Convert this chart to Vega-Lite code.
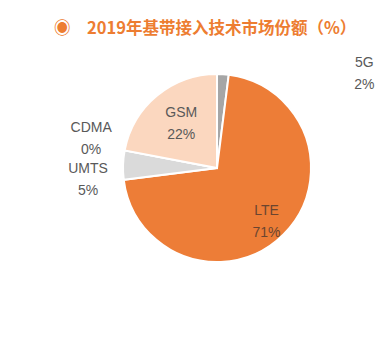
{
  "$schema": "https://vega.github.io/schema/vega-lite/v6.json",
  "width": 336,
  "height": 252,
  "autosize": {"type": "none"},
  "padding": {"left": 49, "top": 42, "right": 0, "bottom": 45},
  "background": "white",
  "view": {"stroke": null},
  "title": {
    "text": "◉　2019年基带接入技术市场份额（%）",
    "anchor": "start",
    "frame": "group",
    "dx": 5,
    "offset": -17,
    "font": "Noto Sans CJK SC",
    "fontSize": 16.5,
    "fontWeight": "bold",
    "color": "#ED7D31"
  },
  "data": {
    "values": [
      {"idx": 1, "tech": "5G", "share": 2, "label": "5G\n2%"},
      {"idx": 2, "tech": "LTE", "share": 71, "label": "LTE\n71%"},
      {"idx": 3, "tech": "UMTS", "share": 5, "label": "UMTS\n5%"},
      {"idx": 4, "tech": "CDMA", "share": 0, "label": "CDMA\n0%"},
      {"idx": 5, "tech": "GSM", "share": 22, "label": "GSM\n22%"}
    ]
  },
  "encoding": {
    "theta": {"field": "share", "type": "quantitative", "stack": true},
    "order": {"field": "idx", "type": "quantitative"}
  },
  "layer": [
    {
      "mark": {"type": "arc", "outerRadius": 94, "stroke": "white", "strokeWidth": 2},
      "encoding": {
        "color": {
          "field": "tech",
          "type": "nominal",
          "scale": {"domain": ["5G", "LTE", "UMTS", "CDMA", "GSM"], "range": ["#A6A6A6", "#ED7D37", "#DADADA", "#BFBFBF", "#FBD7BF"]},
          "legend": null
        }
      }
    },
    {
      "mark": {"type": "text", "radius": 56, "dy": -12, "font": "Liberation Sans", "fontSize": 14, "lineBreak": "\n", "lineHeight": 22, "baseline": "middle", "color": "#595959"},
      "encoding": {"text": {"condition": {"test": "datum.tech === 'GSM'", "field": "label"}, "value": ""}}
    },
    {
      "mark": {"type": "text", "radius": 70, "dy": -6, "font": "Liberation Sans", "fontSize": 14, "lineBreak": "\n", "lineHeight": 22, "baseline": "middle", "color": "#6B4530"},
      "encoding": {"text": {"condition": {"test": "datum.tech === 'LTE'", "field": "label"}, "value": ""}}
    },
    {
      "mark": {"type": "text", "radius": 124, "dx": -5, "dy": 5, "font": "Liberation Sans", "fontSize": 14, "lineBreak": "\n", "lineHeight": 22, "baseline": "middle", "color": "#595959"},
      "encoding": {"text": {"condition": {"test": "datum.tech === 'UMTS'", "field": "label"}, "value": ""}}
    },
    {
      "mark": {"type": "text", "radius": 124, "dx": -4, "dy": -17, "font": "Liberation Sans", "fontSize": 14, "lineBreak": "\n", "lineHeight": 22, "baseline": "middle", "color": "#595959"},
      "encoding": {"text": {"condition": {"test": "datum.tech === 'CDMA'", "field": "label"}, "value": ""}}
    },
    {
      "mark": {"type": "text", "radius": 100, "dx": 141, "dy": -5, "font": "Liberation Sans", "fontSize": 14, "lineBreak": "\n", "lineHeight": 22, "baseline": "middle", "color": "#595959"},
      "encoding": {"text": {"condition": {"test": "datum.tech === '5G'", "field": "label"}, "value": ""}}
    }
  ]
}
